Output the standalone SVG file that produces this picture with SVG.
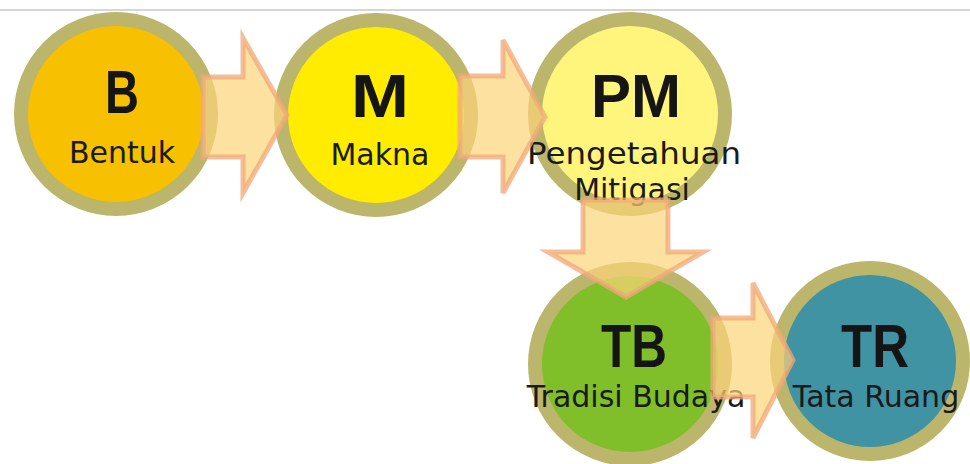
<svg xmlns="http://www.w3.org/2000/svg" width="970" height="464" viewBox="0 0 970 464">
<style>
.ring{stroke:#bcb56c;stroke-width:14}
.big{font-family:"Liberation Sans",Arial,sans-serif;font-weight:bold;font-size:61px;fill:#151515;text-anchor:middle}
.sub{font-family:"DejaVu Sans",sans-serif;font-size:30px;fill:#1a1a1a;text-anchor:middle}
.arr{fill:#fbd478;fill-opacity:0.7;stroke:#f0a878;stroke-opacity:0.75;stroke-width:5;stroke-linejoin:miter}
</style>
<rect width="970" height="464" fill="#ffffff"/>
<line x1="0" y1="10" x2="970" y2="10" stroke="#c8c8c8" stroke-width="1.5"/>
<g id="node-B">
<circle class="ring" cx="116" cy="114" r="95" fill="#f7c000"/>
<text class="big" x="122" y="113" textLength="34" lengthAdjust="spacingAndGlyphs">B</text>
<text class="sub" x="122" y="163">Bentuk</text>
</g>
<g id="node-M">
<circle class="ring" cx="376" cy="115" r="95" fill="#ffec00"/>
<text class="big" x="380" y="117" textLength="58" lengthAdjust="spacingAndGlyphs">M</text>
<text class="sub" x="380" y="165">Makna</text>
</g>
<g id="node-PM">
<circle class="ring" cx="630" cy="114" r="95" fill="#fff47c"/>
<text class="big" x="636" y="117" textLength="90" lengthAdjust="spacingAndGlyphs">PM</text>
<text class="sub" x="634" y="164" textLength="214" lengthAdjust="spacingAndGlyphs">Pengetahuan</text>
<text class="sub" x="632" y="200">Mitigasi</text>
</g>
<g id="node-TB">
<circle class="ring" cx="630" cy="364" r="95" fill="#80bf2a"/>
<text class="big" x="634" y="367" textLength="66" lengthAdjust="spacingAndGlyphs">TB</text>
<text class="sub" x="636" y="407">Tradisi Budaya</text>
</g>
<g id="node-TR">
<circle class="ring" cx="870" cy="361" r="93" fill="#3f93a2"/>
<text class="big" x="875" y="367" textLength="68" lengthAdjust="spacingAndGlyphs">TR</text>
<text class="sub" x="876" y="407">Tata Ruang</text>
</g>
<g id="connectors">
<polygon class="arr" points="203,77 243,77 243,38 287,115 243,193 243,157 203,157"/>
<polygon class="arr" points="460,76 503,76 503,40 545,117 503,193 503,157 460,157"/>
<polygon class="arr" points="583,200 668,200 668,252 703,252 626,297 548,252 583,252"/>
<polygon class="arr" points="713,318 753,318 753,283 793,360 753,438 753,397 713,397"/>
</g>
</svg>
